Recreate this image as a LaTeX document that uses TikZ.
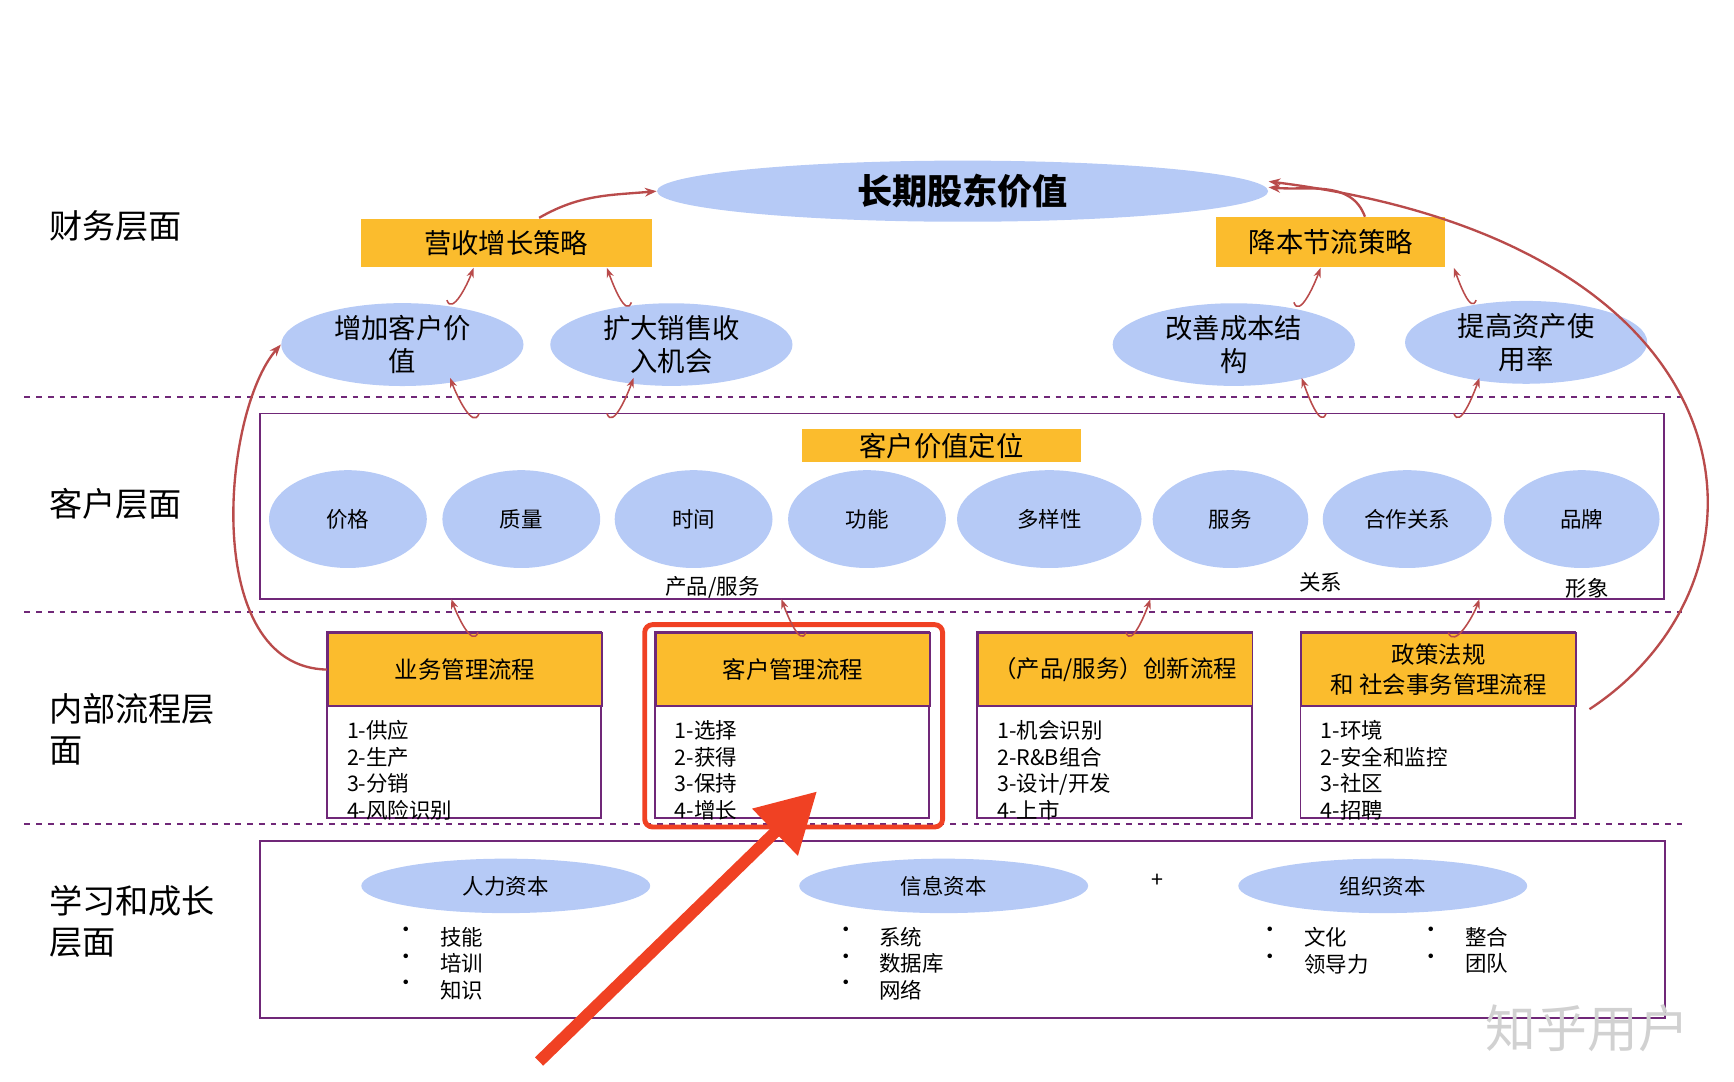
\documentclass[tikz,border=0pt]{standalone}
\usepackage{fontspec}
\setmainfont{Noto Sans CJK SC}
\usetikzlibrary{shapes.geometric,arrows.meta}
\definecolor{ebl}{RGB}{182,202,246}
\definecolor{ora}{RGB}{251,188,45}
\definecolor{pur}{RGB}{112,40,120}
\definecolor{drd}{RGB}{185,75,75}
\definecolor{brd}{RGB}{240,65,35}
\begin{document}
\begin{tikzpicture}[x=0.02cm,y=-0.02cm,
  oval/.style = {ellipse,fill=ebl,inner sep=0pt,align=center},
  obox/.style = {fill=ora,inner sep=0pt,font=\fontsize{14}{16}\selectfont},
  dline/.style = {pur,dashed,line width=1pt},
  parr/.style = {-{Stealth[length=6pt]},drd,line width=1.2pt},
  sarr/.style = {-{Stealth[length=5pt]},drd,line width=0.8pt},
  lvl/.style = {anchor=west,align=left,font=\fontsize{17}{21}\selectfont},
  hbox/.style = {fill=ora,draw=pur,line width=1pt,inner sep=0pt,align=center,font=\fontsize{12}{15}\selectfont},
  lbox/.style = {draw=pur,line width=1pt},
  item/.style = {anchor=north west,align=left,font=\fontsize{11}{13.6}\selectfont}]
\useasboundingbox (0,0) rectangle (1560,973);

% levels
\node[lvl] (f) at (38,203) {财务层面};
\node[lvl] (c) at (38,453) {客户层面};
\node[lvl] (p) at (38,656) {内部流程层\\面};
\node[lvl] (l) at (38,829) {学习和成长\\层面};
\draw[dline] (22,357) -- (1515,357);
\draw[dline] (22,551) -- (1515,551);
\draw[dline] (22,741) -- (1515,741);

% financial
\node[oval,minimum width=11cm,minimum height=1.1cm,font=\bfseries\fontsize{18}{20}\selectfont] (top) at (866,172) {长期股东价值};
\node[obox,minimum width=5.24cm,minimum height=0.86cm,anchor=north west] (rev) at (324,197) {营收增长策略};
\node[obox,minimum width=4.12cm,minimum height=0.9cm,anchor=north west] (cost) at (1094,195) {降本节流策略};
\foreach \n/\x/\y/\t in {e1/362/310/{增加客户价\\值},e2/604/310/{扩大销售收\\入机会},e3/1110/310/{改善成本结\\构},e4/1373/308/{提高资产使\\用率}}
  \node[oval,minimum width=4.36cm,minimum height=1.4cm,font=\fontsize{14}{17}\selectfont] (\n) at (\x,\y) {\t};

% customer
\draw[lbox] (234,372) rectangle (1497,539);
\node[obox,minimum width=5.02cm,minimum height=0.6cm] (cvp) at (847,401) {客户价值定位};
\foreach \n/\x/\w/\t in {c1/313/142/价格,c2/469/142/质量,c3/624/142/时间,c4/780/142/功能,c5/944/166/多样性,c6/1107/140/服务,c7/1266/152/合作关系,c8/1423/140/品牌}
  \node[oval,minimum width=\w*0.02cm,minimum height=1.76cm,font=\fontsize{11}{13}\selectfont] (\n) at (\x,467) {\t};
\node[font=\fontsize{11}{13}\selectfont] (lp) at (641,528) {产品/服务};
\node[font=\fontsize{11}{13}\selectfont] (lr) at (1188,524) {关系};
\node[font=\fontsize{11}{13}\selectfont] (li) at (1428,529) {形象};

% internal processes
\foreach \n/\x/\t/\a/\b/\c/\d in {
  p1/294/业务管理流程/1-供应/2-生产/3-分销/4-风险识别,
  p2/589/客户管理流程/1-选择/2-获得/3-保持/4-增长,
  p3/879/{（产品/服务）创新流程}/1-机会识别/2-R\&B组合/{3-设计/开发}/4-上市,
  p4/1170/{政策法规\\和\ 社会事务管理流程}/1-环境/2-安全和监控/3-社区/4-招聘}{
  \draw[lbox] (\x,569) rectangle (\x+247,736);
  \node[hbox,minimum width=4.94cm,minimum height=1.3cm,anchor=north west] (\n) at (\x,569) {\t};
  \node[item] (\n l) at (\x+12,642) {\a\\\b\\\c\\\d};
}
\draw[brd,line width=2.5pt,rounded corners=4pt] (580,562) rectangle (848,744);

% learning
\draw[lbox] (234,757) rectangle (1498,916);
\foreach \n/\x/\t in {h1/455/人力资本,h2/849/信息资本,h3/1244/组织资本}
  \node[oval,minimum width=5.2cm,minimum height=0.98cm,font=\fontsize{11}{13}\selectfont] (\n) at (\x,797) {\t};
\node[font=\fontsize{11}{13}\selectfont] (plus) at (1041,792) {+};
\node[item] (b1) at (350,828) {•\\•\\•};
\node[item] (t1) at (390,828) {技能\\培训\\知识};
\node[item] (b2) at (745,828) {•\\•\\•};
\node[item] (t2) at (785,828) {系统\\数据库\\网络};
\node[item] (b3) at (1127,828) {•\\•};
\node[item] (t3) at (1167,828) {文化\\领导力};
\node[item] (b4) at (1272,828) {•\\•};
\node[item] (t4) at (1312,828) {整合\\团队};

% arrows
\coordinate (rt) at (485,196);
\coordinate (ct) at (1228,195);
\coordinate (pr) at (1430,638);
\draw[parr] (rt) to[out=30,in=185] (top.west);
\draw[parr] (ct) to[out=110,in=-5] ([yshift=2pt]top.east);
\draw[parr] (pr) .. controls (1610,520) and (1590,220) .. ([yshift=5pt]top.east);
\draw[parr] (p1.west) .. controls (180,600) and (200,370) .. (e1.west);
\draw[sarr] (402,270) to[out=-70,in=-110] (426,241);
\draw[sarr] (568,272) to[out=-110,in=-70] (546,241);
\draw[sarr] (1164,272) to[out=-70,in=-110] (1188,241);
\draw[sarr] (1328,270) to[out=-110,in=-70] (1308,241);
\draw[sarr] (431,372) to[out=-110,in=-70] (405,340);
\draw[sarr] (546,372) to[out=-70,in=-110] (570,340);
\draw[sarr] (1193,372) to[out=-110,in=-70] (1171,340);
\draw[sarr] (1308,372) to[out=-70,in=-110] (1331,340);
\draw[sarr] (430,569) to[out=-110,in=-70] (406,539);
\draw[sarr] (725,569) to[out=-110,in=-70] (703,539);
\draw[sarr] (1013,569) to[out=-70,in=-110] (1035,539);
\draw[sarr] (1303,569) to[out=-70,in=-110] (1331,539);
\coordinate (bs) at (485,955);
\coordinate (be) at (735,712);
\draw[-{Triangle[length=30pt,width=32pt]},brd,line width=6pt] (bs) -- (be);
\node[text=black!18,font=\fontsize{26}{28}\selectfont] (wm) at (1428,925) {知乎用户};
\end{tikzpicture}
\end{document}
